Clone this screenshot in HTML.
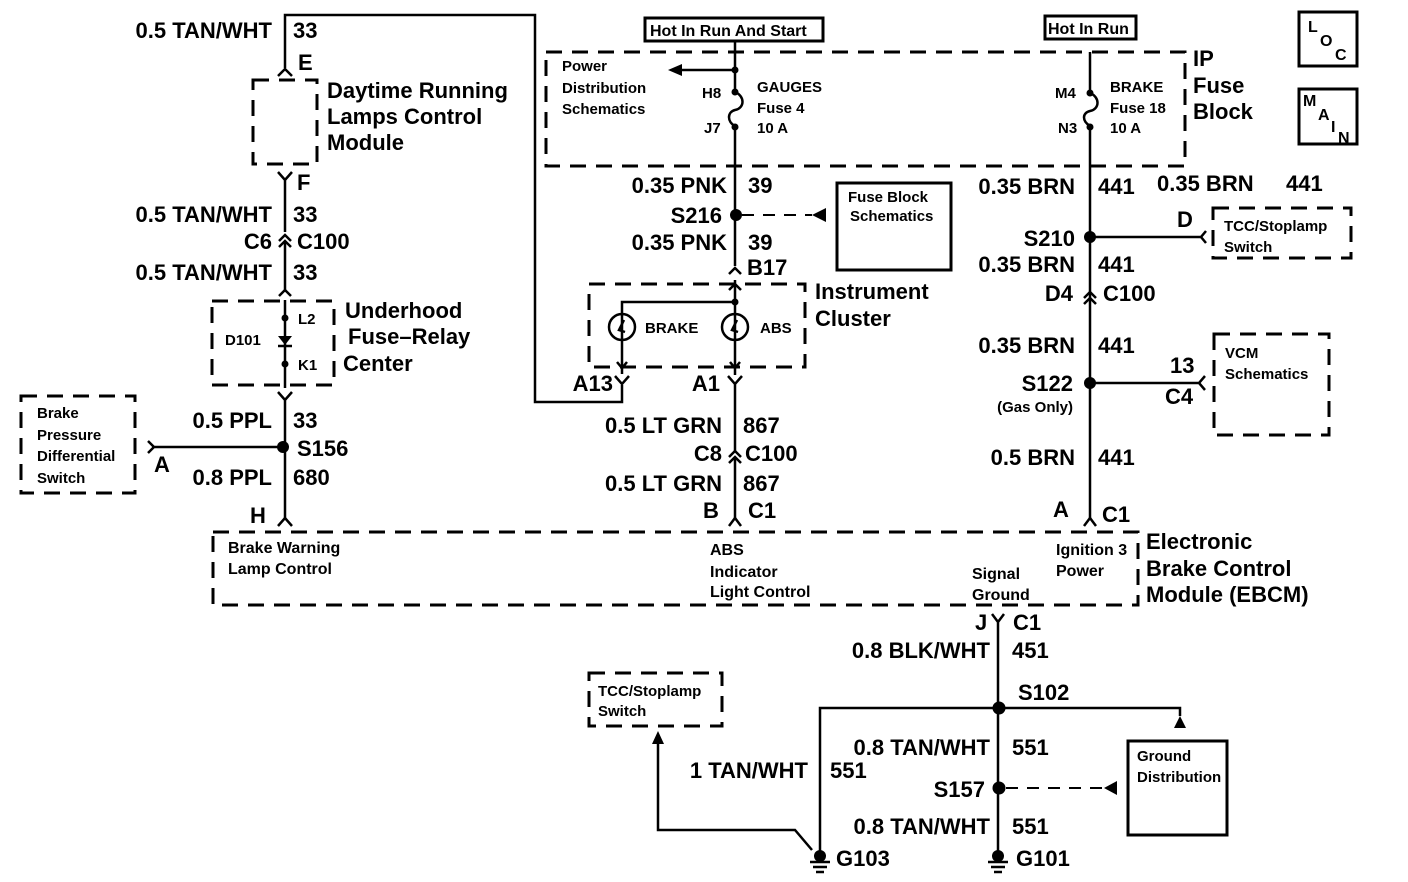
<!DOCTYPE html>
<html><head><meta charset="utf-8"><style>
html,body{margin:0;padding:0;background:#fff;}
svg{display:block}
text{font-family:"Liberation Sans",Arial,sans-serif;fill:#000;font-weight:bold}
.L{font-size:22px;}
.M{font-size:16px;}
.S{font-size:15px;}
.e{text-anchor:end}
.w{stroke:#000;stroke-width:2.5;fill:none}
.d{stroke:#000;stroke-width:3;fill:none;stroke-dasharray:16,10}
.dl{stroke:#000;stroke-width:2;fill:none;stroke-dasharray:12,9}
.b{stroke:#000;stroke-width:3;fill:none}
</style></head><body>
<svg width="1408" height="882" viewBox="0 0 1408 882" xmlns="http://www.w3.org/2000/svg">
<!-- LEFT WIRE -->
<polyline class="w" points="285,68 285,15 535,15 535,402 622,402 622,385"/>
<text class="L e" x="272" y="38">0.5 TAN/WHT</text><text class="L" x="293" y="38">33</text>
<path class="w" d="M278,76 L285,69 L292,76"/><text class="L" x="298" y="70">E</text>
<rect class="d" x="253" y="80" width="64" height="84"/>
<text class="L" x="327" y="98">Daytime Running</text>
<text class="L" x="327" y="124">Lamps Control</text>
<text class="L" x="327" y="150">Module</text>
<path class="w" d="M278,172 L285,180 L292,172 M285,180 L285,232"/>
<text class="L" x="297" y="190">F</text>
<text class="L e" x="272" y="222">0.5 TAN/WHT</text><text class="L" x="293" y="222">33</text>
<path class="w" d="M279,241 L285,235 L291,241 M279,247 L285,241 L291,247 M285,241 L285,292"/>
<text class="L e" x="272" y="249">C6</text><text class="L" x="297" y="249">C100</text>
<text class="L e" x="272" y="280">0.5 TAN/WHT</text><text class="L" x="293" y="280">33</text>
<path class="w" d="M279,296 L285,290 L291,296"/>
<rect class="d" x="212" y="301" width="122" height="84"/>
<path class="w" d="M285,300 L285,388"/>
<circle cx="285" cy="318" r="3.5"/><circle cx="285" cy="364" r="3.5"/>
<path d="M278,336 L292,336 L285,345 Z"/><path class="w" d="M278,346 L292,346"/>
<text class="S" x="298" y="324">L2</text><text class="S" x="298" y="370">K1</text>
<text class="S" x="225" y="345">D101</text>
<text class="L" x="345" y="318">Underhood</text>
<text class="L" x="348" y="344">Fuse–Relay</text>
<text class="L" x="343" y="371">Center</text>
<path class="w" d="M278,392 L285,400 L292,392 M285,400 L285,520"/>
<text class="L e" x="272" y="428">0.5 PPL</text><text class="L" x="293" y="428">33</text>
<circle cx="283" cy="447" r="6"/><text class="L" x="297" y="456">S156</text>
<text class="L e" x="272" y="485">0.8 PPL</text><text class="L" x="293" y="485">680</text>
<path class="w" d="M148,441 L154,447 L148,453 M152,447 L283,447"/>
<text class="L" x="154" y="472">A</text>
<rect class="d" x="21" y="396" width="114" height="97"/>
<text class="S" x="37" y="418">Brake</text><text class="S" x="37" y="440">Pressure</text>
<text class="S" x="37" y="461">Differential</text><text class="S" x="37" y="483">Switch</text>
<path class="w" d="M278,526 L285,518 L292,526"/><text class="L" x="250" y="523">H</text>

<!-- CENTER -->
<rect class="b" x="645" y="18" width="178" height="23"/>
<text class="M" x="650" y="36">Hot In Run And Start</text>
<rect class="d" x="546" y="52" width="639" height="114"/>
<text class="S" x="562" y="71">Power</text><text class="S" x="562" y="93">Distribution</text><text class="S" x="562" y="114">Schematics</text>
<path class="w" d="M735,42 L735,92 M735,92 C745,96 745,108 735,110 C727,112 727,122 735,126 L735,266"/>
<circle cx="735" cy="70" r="3.5"/><circle cx="735" cy="92" r="3.5"/><circle cx="735" cy="127" r="3.5"/>
<path class="w" d="M735,70 L680,70"/><path d="M668,70 L682,64 L682,76 Z"/>
<text class="S" x="702" y="98">H8</text><text class="S" x="704" y="133">J7</text>
<text class="S" x="757" y="92">GAUGES</text><text class="S" x="757" y="113">Fuse 4</text><text class="S" x="757" y="133">10 A</text>
<text class="L e" x="727" y="193">0.35 PNK</text><text class="L" x="748" y="193">39</text>
<circle cx="736" cy="215" r="6"/><text class="L e" x="722" y="223">S216</text>
<path class="dl" d="M742,215 L812,215"/><path d="M826,208 L812,215 L826,222 Z"/>
<rect class="b" x="837" y="183" width="114" height="87"/>
<text class="S" x="848" y="202">Fuse Block</text><text class="S" x="850" y="221">Schematics</text>
<text class="L e" x="727" y="250">0.35 PNK</text><text class="L" x="748" y="250">39</text>
<path class="w" d="M729,274 L735,268 L741,274"/><text class="L" x="747" y="275">B17</text>
<rect class="d" x="589" y="284" width="216" height="83"/>
<path class="w" d="M729,290 L735,284 L741,290 M735,280 L735,375 M622,374 L622,302 L735,302"/>
<circle cx="735" cy="302" r="3.5"/>
<circle cx="622" cy="327" r="13" class="w"/><circle cx="735" cy="327" r="13" class="w"/>
<path class="w" d="M624,320 L619,330 L625,332 M737,320 L732,330 L738,332"/>
<path class="w" d="M617,362 L622,368 L627,362 M730,362 L735,368 L740,362"/>
<text class="S" x="645" y="333">BRAKE</text><text class="S" x="760" y="333">ABS</text>
<text class="L" x="815" y="299">Instrument</text><text class="L" x="815" y="326">Cluster</text>
<path class="w" d="M615,376 L622,384 L629,376 M728,376 L735,384 L742,376 M735,384 L735,452"/>
<text class="L e" x="613" y="391">A13</text><text class="L e" x="720" y="391">A1</text>
<text class="L e" x="722" y="433">0.5 LT GRN</text><text class="L" x="743" y="433">867</text>
<path class="w" d="M729,457 L735,451 L741,457 M729,463 L735,457 L741,463 M735,457 L735,520"/>
<text class="L e" x="722" y="461">C8</text><text class="L" x="745" y="461">C100</text>
<text class="L e" x="722" y="491">0.5 LT GRN</text><text class="L" x="743" y="491">867</text>
<path class="w" d="M729,526 L735,518 L741,526"/>
<text class="L" x="703" y="518">B</text><text class="L" x="748" y="518">C1</text>

<!-- RIGHT -->
<rect class="b" x="1045" y="16" width="91" height="23"/>
<text class="M" x="1048" y="34">Hot In Run</text>
<path class="w" d="M1090,52 L1090,93 C1100,97 1100,109 1090,111 C1082,113 1082,121 1090,126 L1090,520"/>
<circle cx="1090" cy="93" r="3.5"/><circle cx="1090" cy="127" r="3.5"/>
<text class="S" x="1055" y="98">M4</text><text class="S" x="1058" y="133">N3</text>
<text class="S" x="1110" y="92">BRAKE</text><text class="S" x="1110" y="113">Fuse 18</text><text class="S" x="1110" y="133">10 A</text>
<text class="L" x="1193" y="66">IP</text><text class="L" x="1193" y="93">Fuse</text><text class="L" x="1193" y="119">Block</text>
<text class="L e" x="1075" y="194">0.35 BRN</text><text class="L" x="1098" y="194">441</text>
<text class="L" x="1157" y="191">0.35 BRN</text><text class="L" x="1286" y="191">441</text>
<circle cx="1090" cy="237" r="6"/><text class="L e" x="1075" y="246">S210</text>
<path class="w" d="M1090,237 L1202,237 M1206,231 L1201,237 L1206,243"/>
<text class="L" x="1177" y="227">D</text>
<rect class="d" x="1213" y="208" width="138" height="50"/>
<text class="S" x="1224" y="231">TCC/Stoplamp</text><text class="S" x="1224" y="252">Switch</text>
<text class="L e" x="1075" y="272">0.35 BRN</text><text class="L" x="1098" y="272">441</text>
<path class="w" d="M1084,298 L1090,292 L1096,298 M1084,304 L1090,298 L1096,304"/>
<text class="L e" x="1073" y="301">D4</text><text class="L" x="1103" y="301">C100</text>
<text class="L e" x="1075" y="353">0.35 BRN</text><text class="L" x="1098" y="353">441</text>
<circle cx="1090" cy="383" r="6"/><text class="L e" x="1073" y="391">S122</text>
<text class="S e" x="1073" y="412">(Gas Only)</text>
<path class="w" d="M1090,383 L1200,383 M1205,376 L1199,383 L1205,390"/>
<text class="L" x="1170" y="373">13</text><text class="L" x="1165" y="404">C4</text>
<rect class="d" x="1214" y="334" width="115" height="101"/>
<text class="S" x="1225" y="358">VCM</text><text class="S" x="1225" y="379">Schematics</text>
<text class="L e" x="1075" y="465">0.5 BRN</text><text class="L" x="1098" y="465">441</text>
<path class="w" d="M1084,526 L1090,518 L1096,526"/>
<text class="L" x="1053" y="517">A</text><text class="L" x="1102" y="522">C1</text>

<!-- EBCM -->
<rect class="d" x="213" y="532" width="925" height="73"/>
<text class="M" x="228" y="553">Brake Warning</text><text class="M" x="228" y="574">Lamp Control</text>
<text class="M" x="710" y="555">ABS</text><text class="M" x="710" y="577">Indicator</text><text class="M" x="710" y="597">Light Control</text>
<text class="M" x="1056" y="555">Ignition 3</text><text class="M" x="1056" y="576">Power</text>
<text class="M" x="972" y="579">Signal</text><text class="M" x="972" y="600">Ground</text>
<text class="L" x="1146" y="549">Electronic</text><text class="L" x="1146" y="576">Brake Control</text><text class="L" x="1146" y="602">Module (EBCM)</text>

<!-- BOTTOM -->
<path class="w" d="M992,614 L998,622 L1004,614 M998,622 L998,852"/>
<text class="L" x="975" y="630">J</text><text class="L" x="1013" y="630">C1</text>
<text class="L e" x="990" y="658">0.8 BLK/WHT</text><text class="L" x="1012" y="658">451</text>
<text class="L" x="1018" y="700">S102</text>
<circle cx="999" cy="708" r="6.5"/>
<path class="w" d="M820,852 L820,708 L1180,708 L1180,716"/><path d="M1174,728 L1180,716 L1186,728 Z"/>
<text class="L e" x="990" y="755">0.8 TAN/WHT</text><text class="L" x="1012" y="755">551</text>
<text class="L e" x="808" y="778">1 TAN/WHT</text><text class="L" x="830" y="778">551</text>
<circle cx="999" cy="788" r="6.5"/><text class="L e" x="985" y="797">S157</text>
<path class="dl" d="M1006,788 L1104,788"/><path d="M1117,781 L1104,788 L1117,795 Z"/>
<rect class="b" x="1128" y="741" width="99" height="94"/>
<text class="S" x="1137" y="761">Ground</text><text class="S" x="1137" y="782">Distribution</text>
<text class="L e" x="990" y="834">0.8 TAN/WHT</text><text class="L" x="1012" y="834">551</text>
<rect class="d" x="589" y="673" width="133" height="53"/>
<text class="S" x="598" y="696">TCC/Stoplamp</text><text class="S" x="598" y="716">Switch</text>
<path d="M652,744 L658,731 L664,744 Z"/>
<path class="w" d="M658,742 L658,830 L795,830 L812,850"/>
<g>
<circle cx="820" cy="856" r="6"/><path class="w" d="M810,862 L830,862 M813,867 L827,867 M816,872 L824,872"/>
<circle cx="998" cy="856" r="6"/><path class="w" d="M988,862 L1008,862 M991,867 L1005,867 M994,872 L1002,872"/>
</g>
<text class="L" x="836" y="866">G103</text><text class="L" x="1016" y="866">G101</text>

<!-- LOC / MAIN -->
<rect class="b" x="1299" y="12" width="58" height="54"/>
<text class="M" x="1308" y="32">L</text><text class="M" x="1320" y="46">O</text><text class="M" x="1335" y="60">C</text>
<rect class="b" x="1299" y="89" width="58" height="55"/>
<text class="M" x="1303" y="106">M</text><text class="M" x="1318" y="120">A</text><text class="M" x="1331" y="132">I</text><text class="M" x="1338" y="143">N</text>
</svg>
</body></html>
